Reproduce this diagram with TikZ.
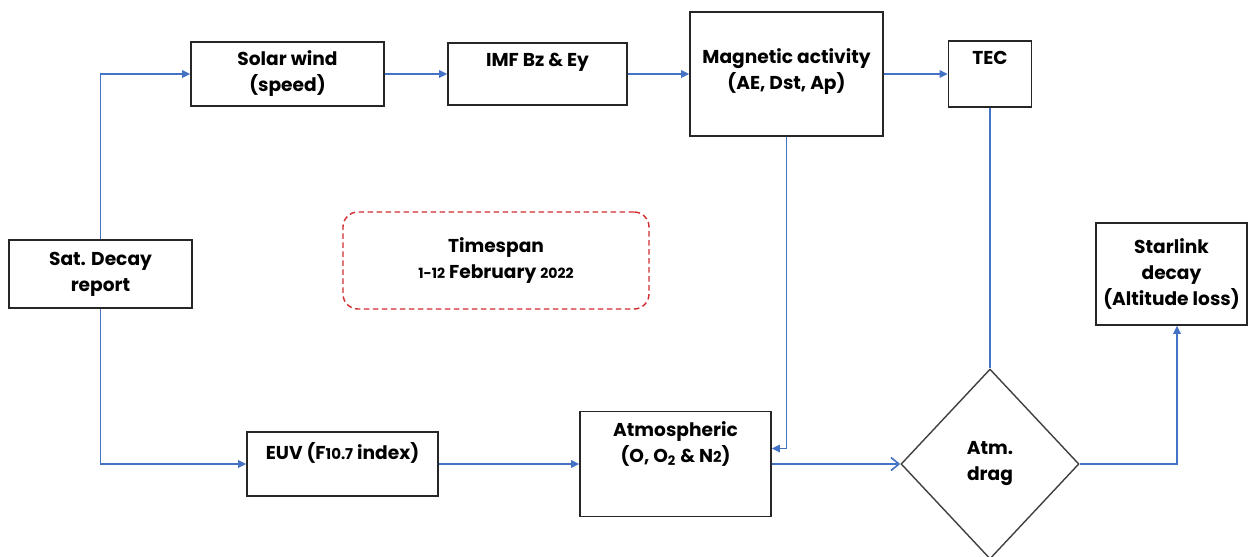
\documentclass[tikz,border=0pt]{standalone}
\usepackage{fontspec}
\setmainfont{Poppins}
\usepackage{xcolor}
\usepackage{tikz}
\usetikzlibrary{arrows.meta,shapes.geometric}
\definecolor{flowblue}{RGB}{68,114,196}
\definecolor{spanred}{RGB}{208,44,48}

\begin{document}
\begin{tikzpicture}[
  font=\fontsize{10.6}{14.8}\selectfont\bfseries,
  block/.style={draw=black!85, line width=0.9pt, align=center, inner sep=0pt},
  toptext/.style={anchor=north, yshift=-0.1cm, align=center},
  decision/.style={draw=black!75, line width=0.8pt, diamond, aspect=0.94, inner sep=0pt, align=center},
  span/.style={draw=spanred, dash pattern=on 1.1mm off 0.7mm, line width=0.8pt, rounded corners=0.3cm, align=center},
  wire/.style={draw=flowblue, line width=0.95pt, -{Triangle[length=1.6mm, width=1.5mm]}},
  openwire/.style={draw=flowblue, line width=0.95pt, -{Straight Barb[length=1.6mm, width=2.6mm]}},
  link/.style={draw=flowblue, line width=0.95pt}
]
\useasboundingbox (0,0) rectangle (24.96,-11.14);

% upper chain
\node[block, minimum width=3.66cm, minimum height=1.36cm] (sat) at (2.01,-5.48) {Sat. Decay\\report};
\node[block, minimum width=3.86cm, minimum height=1.28cm] (solar) at (5.75,-1.48) {Solar wind\\(speed)};
\node[block, minimum width=3.58cm, minimum height=1.24cm, label={[toptext]north:IMF Bz \& Ey}] (imf) at (10.75,-1.48) {};
\node[block, minimum width=3.86cm, minimum height=2.48cm, label={[toptext, yshift=-0.52cm]north:Magnetic activity\\(AE, Dst, Ap)}] (magact) at (15.73,-1.48) {};
\node[block, minimum width=1.66cm, minimum height=1.32cm, label={[toptext]north:TEC}] (tec) at (19.80,-1.48) {};
\node[block, minimum width=3.02cm, minimum height=2.04cm] (starlink) at (23.43,-5.48) {Starlink\\decay\\(Altitude loss)};

\node[span, minimum width=6.12cm, minimum height=1.94cm] (timespan) at (9.92,-5.21) {Timespan\\{\fontsize{8}{10}\selectfont 1-12} February {\fontsize{8}{10}\selectfont 2022}};

% lower chain
\node[block, minimum width=3.82cm, minimum height=1.28cm, label={[toptext]north:EUV (F{\fontsize{8.5}{10}\selectfont 10.7} index)}] (euv) at (6.85,-9.28) {};
\node[block, minimum width=3.82cm, minimum height=2.10cm, label={[toptext]north:Atmospheric\\(O, O\textsubscript{2} \& N{\fontsize{8.5}{10}\selectfont 2})}] (atmos) at (13.51,-9.28) {};
\node[decision, minimum width=3.56cm, minimum height=3.80cm] (drag) at (19.80,-9.28) {Atm.\\drag};

\draw[wire] (sat.north) |- (solar.west);
\draw[wire] (solar.east) -- (imf.west);
\draw[wire] (imf.east) -- (magact.west);
\draw[wire] (magact.east) -- (tec.west);
\draw[wire] (magact.south) |- ([yshift=0.31cm]atmos.east);
\draw[link] (tec.south) -- (drag.north);

\draw[wire] (sat.south) |- (euv.west);
\draw[wire] (euv.east) -- (atmos.west);
\draw[openwire] (atmos.east) -- (drag.west);
\draw[wire] (drag.east) -| ([xshift=0.11cm]starlink.south);

\end{tikzpicture}
\end{document}
